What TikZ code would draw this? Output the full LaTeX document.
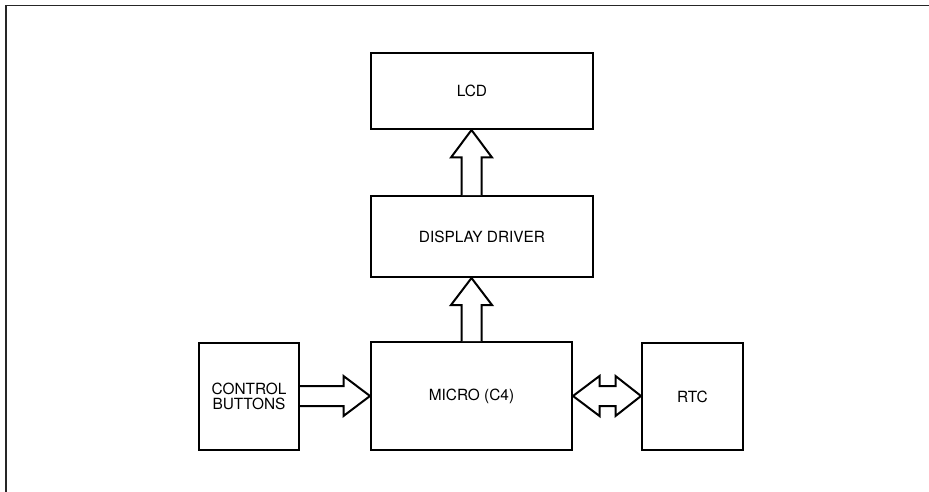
\documentclass[tikz,border=0pt]{standalone}
\usepackage{fontspec}
\setmainfont{TeX Gyre Heros}
\usetikzlibrary{calc}
\tikzset{
  x=1pt, y=-1pt,
  blockbox/.style={draw, line width=2pt, inner sep=0pt, align=center,
    font=\fontsize{15.4pt}{15pt}\selectfont},
  fatarrow/.style={draw, line width=2pt, line join=miter, fill=white},
  frameline/.style={line width=1.5pt, draw=black!85}
}
\begin{document}
\begin{tikzpicture}
\useasboundingbox (0,0) rectangle (929,492);
% frame (top and left edges only)
\coordinate (frameA) at (6,492);
\coordinate (frameB) at (6,5.5);
\coordinate (frameC) at (929,5.5);
\draw[frameline] (frameA) -- (frameB) -- (frameC);

% blocks
\node[blockbox, minimum width=222pt, minimum height=76pt,
      label={[font=\fontsize{15.4pt}{15pt}\selectfont, xshift=-10pt]center:LCD}] (lcd) at (482,91) {};
\node[blockbox, minimum width=222pt, minimum height=81pt] (dd) at (482,236.5) {DISPLAY DRIVER};
\node[blockbox, minimum width=201pt, minimum height=108pt] (micro) at (471.5,396) {MICRO (C4)};
\node[blockbox, minimum width=100pt, minimum height=107pt] (ctrl) at (249,396) {CONTROL\\BUTTONS};
\node[blockbox, minimum width=101pt, minimum height=107pt] (rtc) at (692.5,396.5) {RTC};

% up arrow: display driver -> LCD
\coordinate (t1) at (micro.north |- lcd.south);
\coordinate (b1) at (micro.north |- dd.north);
\draw[fatarrow] ($(b1)+(-10,0)$) -- ($(t1)+(-10,27.5)$) -- ($(t1)+(-20.5,27.5)$) -- (t1)
  -- ($(t1)+(20.5,27.5)$) -- ($(t1)+(10,27.5)$) -- ($(b1)+(10,0)$);

% up arrow: micro -> display driver
\coordinate (t2) at (micro.north |- dd.south);
\draw[fatarrow] ($(micro.north)+(-10,0)$) -- ($(t2)+(-10,27)$) -- ($(t2)+(-20.5,27)$) -- (t2)
  -- ($(t2)+(20.5,27)$) -- ($(t2)+(10,27)$) -- ($(micro.north)+(10,0)$);

% right arrow: control buttons -> micro
\coordinate (t3) at (micro.west);
\coordinate (b3) at (ctrl.east |- micro.west);
\draw[fatarrow] ($(b3)+(0,-10)$) -- ($(t3)+(-26.5,-10)$) -- ($(t3)+(-26.5,-20)$) -- (t3)
  -- ($(t3)+(-26.5,20)$) -- ($(t3)+(-26.5,10)$) -- ($(b3)+(0,10)$);

% double arrow: micro <-> RTC
\coordinate (l4) at (micro.east);
\coordinate (r4) at (rtc.west |- micro.east);
\draw[fatarrow] (l4) -- ($(l4)+(26.5,-20)$) -- ($(l4)+(26.5,-10)$) -- ($(r4)+(-25.5,-10)$)
  -- ($(r4)+(-25.5,-20)$) -- (r4) -- ($(r4)+(-25.5,20)$) -- ($(r4)+(-25.5,10)$)
  -- ($(l4)+(26.5,10)$) -- ($(l4)+(26.5,20)$) -- cycle;
\end{tikzpicture}
\end{document}
